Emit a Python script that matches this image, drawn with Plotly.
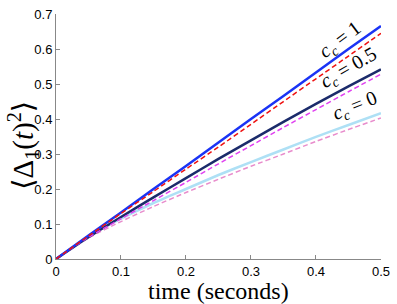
import plotly.graph_objects as go

t = [0, 0.05, 0.1, 0.15, 0.2, 0.25, 0.3, 0.35, 0.4, 0.45, 0.5]
sim_cc1 = [0, 0.067, 0.133, 0.2, 0.266, 0.333, 0.4, 0.466, 0.533, 0.6, 0.666]
th_cc1 = [0, 0.066, 0.13, 0.193, 0.257, 0.32, 0.385, 0.45, 0.515, 0.58, 0.645]
sim_cc05 = [0, 0.062, 0.12, 0.176, 0.231, 0.286, 0.339, 0.392, 0.443, 0.493, 0.542]
th_cc05 = [0, 0.062, 0.115, 0.167, 0.219, 0.272, 0.324, 0.376, 0.427, 0.478, 0.528]
sim_cc0 = [0, 0.065, 0.115, 0.16, 0.2, 0.24, 0.277, 0.313, 0.349, 0.383, 0.417]
th_cc0 = [0, 0.06, 0.107, 0.15, 0.19, 0.228, 0.265, 0.3, 0.336, 0.37, 0.403]
x_ticks = [0, 0.1, 0.2, 0.3, 0.4, 0.5]
y_ticks = [0, 0.1, 0.2, 0.3, 0.4, 0.5, 0.6, 0.7]

fig = go.Figure()
series = [
    (sim_cc0, "#aee0f5", "solid", 2.5),
    (th_cc0, "#e88ccc", "5px,3px", 1.5),
    (sim_cc05, "#1b2b6b", "solid", 2.5),
    (th_cc05, "#e040f0", "5px,3px", 1.5),
    (sim_cc1, "#1a33f5", "solid", 2.5),
    (th_cc1, "#ee1111", "5px,3px", 1.5),
]
for ys, c, d, w in series:
    fig.add_trace(go.Scatter(x=t, y=ys, mode="lines", line=dict(color=c, dash=d, width=w, shape="spline", smoothing=0.6),
                             showlegend=False, hoverinfo="skip"))

serif = "Liberation Serif, DejaVu Serif, serif"
labels = [
    (0.437, 0.625, "<i>c</i><sub><i>c</i></sub> = 1", -37),
    (0.45, 0.545, "<i>c</i><sub><i>c</i></sub> = 0.5", -30),
    (0.46, 0.435, "<i>c</i><sub><i>c</i></sub> = 0", -22),
]
for x, y, txt, ang in labels:
    fig.add_annotation(x=x, y=y, text=txt, showarrow=False, textangle=ang,
                       font=dict(family=serif, size=20, color="black"))

fig.add_annotation(x=0.5, y=-0.13, xref="paper", yref="paper", text="time (seconds)",
                   showarrow=False, yanchor="middle", xanchor="center",
                   font=dict(family=serif, size=24, color="black"))
fig.add_annotation(x=-0.1, y=0.464, xref="paper", yref="paper",
                   text="⟨Δ<sub>1</sub>(<i>t</i>)<sup>2</sup>⟩", textangle=-90,
                   showarrow=False, yanchor="middle", xanchor="center",
                   font=dict(family=serif, size=29, color="black"))

axis_common = dict(showgrid=False, zeroline=False, showline=True, linecolor="#888888",
                   linewidth=1, ticks="inside", ticklen=4, tickcolor="#888888",
                   tickfont=dict(family="Liberation Sans, Arial, sans-serif", size=13, color="black"))
fig.update_xaxes(range=[0, 0.5001], tickvals=x_ticks, ticktext=[f"{v:g}" for v in x_ticks], **axis_common)
fig.update_yaxes(range=[0, 0.7001], tickvals=y_ticks, ticktext=[f"{v:g}" for v in y_ticks],
                 ticklabeloverflow="allow", **axis_common)
fig.update_layout(width=397, height=304, margin=dict(l=56, r=11, t=7, b=45),
                  plot_bgcolor="white", paper_bgcolor="white")
fig.write_html("out.html", config={"displayModeBar": False},
               post_script="document.body.style.margin='0';")
